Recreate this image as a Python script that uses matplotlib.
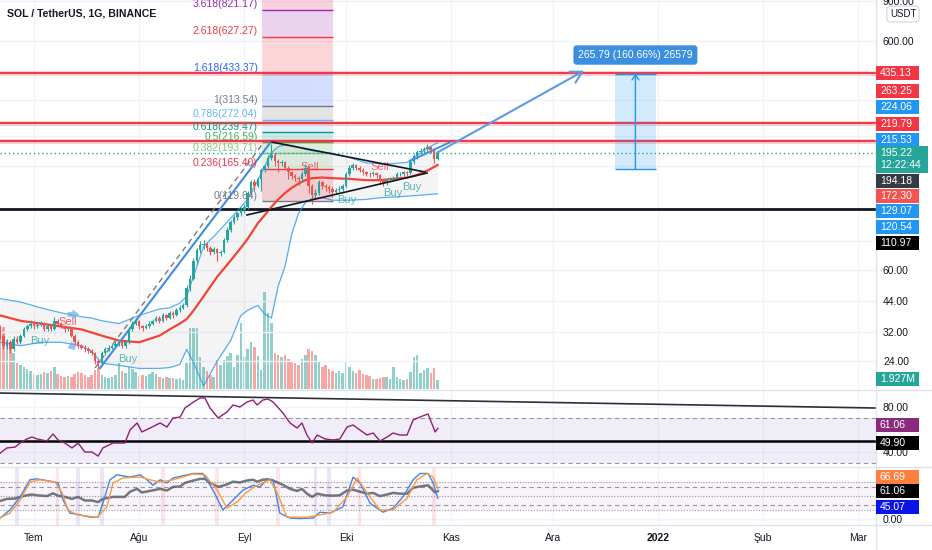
import matplotlib
matplotlib.use("Agg")
import matplotlib.pyplot as plt
from matplotlib.lines import Line2D
from matplotlib.patches import Rectangle
import numpy as np
import pandas as pd

plt.rcParams["font.family"] = ["Liberation Sans", "DejaVu Sans"]

W, H = 932, 550
SCALE_X = 876            # left edge of the price scale, px
X_LEFT, X_RIGHT = -10.03, 248.3
BASE = pd.Timestamp("2021-07-01")   # day 0

# daily candles, day -10 (2021-06-21) .. day 119 (2021-10-28)
first_open = 33.0
closes = [31, 28, 29, 27, 30, 29, 31, 33, 34, 35,
          34, 34.6, 35, 33, 34, 33, 36, 35, 34, 33,
          33.5, 31, 29, 28, 27.5, 27, 26.5, 26, 24, 23.5,
          26, 27, 27.5, 28, 28.5, 29, 28, 29, 33, 35,
          36, 34, 33.5, 34, 35, 36, 37, 36, 38, 37,
          39, 38, 40, 41, 42, 50, 55, 66, 73, 77,
          78, 75, 72, 74, 71, 72, 81, 90, 97, 102,
          106, 110, 113, 130, 145, 140, 150, 164, 170, 185,
          190, 180, 176, 178, 168, 160, 155, 152, 150, 158,
          168, 140, 128, 130, 145, 140, 138, 135, 132, 134,
          136, 140, 158, 168, 172, 168, 164, 160, 158, 157,
          159, 156, 148, 144, 148, 150, 152, 157, 158, 160,
          159, 178, 188, 196, 198, 202, 207, 200, 184, 195.22]
highs = [34, 31.5, 30, 29.6, 30.8, 31, 31.6, 33.8, 35, 36.2,
         35.8, 35.4, 36, 35.5, 34.8, 34.6, 37.5, 36.6, 35.6, 34.5,
         34.2, 33.9, 31.4, 29.6, 28.6, 28.2, 27.6, 27, 26.4, 24.6,
         26.6, 27.6, 28.2, 28.6, 29.3, 29.8, 29.5, 29.6, 33.8, 36,
         37.2, 36.4, 34.6, 34.8, 35.8, 36.8, 37.8, 37.6, 38.8, 38.6,
         39.8, 39.6, 40.8, 42, 43, 51.5, 57, 68, 75, 80,
         81, 79.5, 76, 75.5, 75, 73.5, 82.5, 92, 99, 104,
         108, 113, 116, 133, 148, 150, 153, 168, 175, 190,
         214, 195, 184, 182, 180, 170, 163, 158, 155, 162,
         175, 170, 142, 135, 149, 147, 143, 141, 138, 137,
         139, 143, 161, 172, 176, 175, 171, 167, 163, 161,
         162, 161, 158, 150, 150, 153, 155, 160, 161, 163,
         162, 180, 192, 200, 204, 206, 212, 209, 202, 197]
lows = [30, 27, 27.2, 26, 26.5, 28.4, 28.5, 30.6, 32.4, 33.5,
        33.2, 33.4, 34, 32.5, 32.6, 32.5, 32.8, 34.3, 33.4, 32.3,
        32.6, 30.5, 28.4, 27.4, 27, 26.4, 26, 25.4, 23.4, 22.4,
        23.2, 25.6, 26.6, 27.1, 27.6, 28, 27.5, 27.3, 28.6, 32.5,
        34.5, 33.2, 32.6, 33, 33.6, 34.6, 35.5, 35.3, 35.6, 36.2,
        36.5, 37.2, 37.6, 39.4, 40.4, 41.5, 48.5, 54, 64, 71,
        74, 72.5, 69.5, 70.5, 66, 69, 71, 79.5, 88, 95,
        99, 103, 106, 111, 127, 133, 138, 133, 160, 167,
        182, 170, 160, 171, 164, 150, 150, 147, 141, 146,
        155, 130, 116, 124, 128, 136, 133, 130, 125, 129,
        131, 133, 138, 155, 164, 164, 160, 156, 154, 153,
        154, 152, 143, 140, 141, 145, 147, 150, 154, 155,
        155, 157, 175, 184, 192, 194, 199, 195, 176, 182]
volumes = [13.7, 13.3, 10.5, 9.6, 7.7, 5.6, 5.1, 4.7, 4.3, 3.9,
           3.2, 3.0, 3.2, 3.6, 3.4, 3.9, 4.7, 3.2, 2.8, 2.6,
           2.8, 2.6, 3.2, 3.6, 3.4, 3.0, 2.6, 3.0, 4.1, 4.5,
           3.0, 2.6, 2.4, 2.6, 3.0, 5.6, 3.9, 3.4, 4.7, 4.3,
           3.6, 2.8, 3.0, 2.8, 3.2, 3.6, 3.2, 2.6, 2.4, 2.6,
           2.4, 2.4, 2.1, 2.4, 1.9, 5.6, 13.1, 13.1, 13.1, 6.8,
           4.7, 3.9, 3.0, 2.6, 6.2, 5.1, 6.2, 7.1, 7.7, 4.7,
           7.3, 14.1, 6.8, 8.6, 10.1, 9.0, 7.0, 4.1, 20.8, 16.3,
           14.1, 7.7, 7.3, 6.8, 7.3, 6.4, 6.0, 5.6, 5.1, 6.4,
           7.3, 8.6, 8.1, 7.3, 6.0, 4.7, 5.1, 4.3, 3.9, 3.4,
           3.9, 3.4, 5.8, 4.7, 3.9, 3.4, 4.1, 3.2, 3.0, 2.8,
           2.1, 2.1, 2.4, 2.6, 2.6, 2.1, 4.7, 2.6, 2.1, 1.9,
           2.1, 3.6, 6.8, 7.3, 3.4, 4.1, 4.5, 3.4, 4.5, 1.927]
VOL_TOP = 83.2   # volume value at the top of the price pane (millions)

# Bollinger bands, read at sample days
bb_days = [-10, -4, 2, 8, 14, 17, 20, 25, 31, 37, 40, 43, 45, 47, 50, 54, 58, 61, 63,
           66, 68, 70, 72, 74, 76, 78, 80, 82, 85, 88, 93, 98, 102, 106, 110, 113, 116, 119]
bb_upper = [45, 43.5, 41, 39, 37.5, 37, 36, 35, 38, 40.5, 41, 43, 46, 56, 76, 87, 101, 113, 122,
            148, 170, 195, 207, 211, 210, 206, 202, 199, 196, 194, 186, 176, 175, 175, 177, 190, 205, 215.53]
bb_basis = [38, 36, 35, 34, 33, 32, 31, 29.5, 29, 31, 33, 35, 36.6, 39.8, 46, 56, 66, 75, 82,
            96, 104, 113, 122, 130, 137, 143, 148, 151, 152, 151, 150, 148, 148, 150, 152, 156, 163, 172.3]
bb_lower = [29, 28, 29, 29, 28, 26.5, 23.5, 23, 22.3, 22.3, 22.5, 23.2, 27, 23.7, 18.7, 24, 29.5, 38, 40,
            42, 38.5, 37, 51, 62, 86, 106, 118, 123, 124, 121, 121, 122, 124, 125, 126, 127, 128, 129.07]

# RSI
rsi_days = [-10, -8, -5.6, -4.1, -2.1, -0.6, 0.9, 3.8, 5.6, 7.1, 9.1, 11.2, 13, 15, 17.1, 18.9,
            20.3, 23.3, 26.8, 28.3, 30.4, 31.8, 34.2, 37.2, 39.2, 41, 43.1, 44.5, 46.6, 49, 50.4,
            51.9, 54.3, 56.9, 58.7, 60.7, 62.8, 64.6, 65.8, 67.5, 69, 70.5, 73.4, 75.5, 77.6, 79,
            80.5, 82, 83.5, 85.8, 88.2, 90.2, 92.3, 94.1, 96.1, 98.2, 100, 102, 104.1, 105.9,
            107.9, 110, 111.8, 113.8, 116.2, 118.3, 119.1]
rsi_vals = [39, 43.6, 44.4, 48, 51.6, 53.3, 51.6, 49.8, 56, 50.7, 48, 43.6, 48, 40, 40, 36.4,
            43.6, 48, 48, 59.6, 65.8, 57.8, 61.3, 65.8, 62.2, 70.2, 71.1, 79.1, 83.6, 88, 88,
            79.1, 70.2, 75.6, 81.8, 80, 84.4, 86.2, 81.8, 86.2, 87.1, 84.4, 74.7, 65.8, 61.3, 65.8,
            55.1, 48, 55.1, 51.6, 50.7, 51.6, 62.2, 64, 59.6, 55.1, 56.9, 49.8, 53.3, 56.9,
            55.1, 55.1, 68.4, 71.1, 73.8, 57.8, 61.06]
rsi_line = 49.90
rsi_trend = ([-10, 248], [92.4, 79.1])

# Stochastic RSI
k_days = [-10, -7.1, -4.1, -1.2, 0.9, 4.7, 7.1, 8.6, 10.6, 13.6, 16.5, 18.9, 20.3, 22.4, 24.5,
          28.3, 31.3, 33.3, 35.1, 37.2, 39.2, 41, 46.9, 49.8, 52.8, 55.7, 58.7, 61.6, 64.6, 66.6,
          68.7, 70.5, 72.5, 75.5, 78.4, 82.3, 84.3, 87.3, 91.1, 94.1, 96.1, 99.1, 102.9, 105.9,
          108.8, 111.8, 113.8, 116.2, 117.7, 119.1]
k_vals = [1, 19, 48, 86, 88, 83, 79, 41, 12, 8, 3, 3, 34, 86, 97,
          92, 97, 86, 74, 86, 79, 90, 100, 100, 63, 19, 41, 63, 74, 70,
          86, 86, 12, 1, 0, 1, 14, 12, 26, 92, 79, 34, 14, 23,
          48, 86, 100, 100, 79, 45.07]
d_days = [-10, -7.1, -4.1, -1.2, 1.8, 6.2, 8.3, 10, 12.7, 18.6, 21.5, 23.3, 26.2, 31.3, 34.2,
          37.2, 41, 46.9, 50.4, 54, 56.9, 59.9, 62.8, 65.8, 69.6, 71.7, 74.6, 80.5, 84.3, 88.2,
          92.3, 95.3, 98.2, 102, 105.9, 110, 112.9, 115.9, 117.7, 119.1]
d_vals = [2, 12, 41, 81, 86, 81, 57, 19, 8, 3, 26, 79, 90, 92, 86,
          81, 86, 99, 97, 63, 23, 37, 59, 74, 86, 57, 3, 3, 8, 14,
          48, 90, 57, 19, 19, 45, 86, 100, 92, 66.69]
stripe_purple = [-5, 13, 20, 83, 87]
stripe_pink = [7, 38, 54, 72, 96, 118]

# drawings on the price pane
resistance = [435.13, 263.25, 219.79]
support = 110.97
last_price = 195.22
fib_names = ["0", "0.236", "0.382", "0.5", "0.618", "0.786", "1", "1.618", "2.618", "3.618"]
fib_prices = [119.64, 165.40, 193.71, 216.59, 239.47, 272.04, 313.54, 433.37, 627.27, 821.17]
fib_top = 940.9
fib_span = (67.2, 88.2)
rally_line = ([19.5, 69.6], [22.4, 215])
rally_dashed = ([18.0, 67.2], [22.4, 211])
tri_upper = ([70.2, 115.3], [217, 160.7])
tri_lower = ([62.8, 115.9], [104.3, 159])
short_line = ([110.9, 122.7], [179.5, 217])
proj_arrow = ([118.8, 162.2], [195, 445])
measure_span = (171.3, 183.4)
measure_low, measure_high = 165.43, 431.22
measure_text = "265.79 (160.66%) 26579"
measure_label_price = 521

signal_text = ["Sell", "Buy", "Buy", "Sell", "Buy", "Sell", "Buy", "Buy"]
signal_days = [10.0, 1.8, 27.7, 81.4, 92.3, 102.0, 105.9, 111.5]
signal_prices = [35.6, 29.4, 24.5, 169, 121, 169, 130, 138]

months = ["2021-07-01", "2021-08-01", "2021-09-01", "2021-10-01", "2021-11-01",
          "2021-12-01", "2022-01-01", "2022-02-01", "2022-03-01"]
month_names = ["Tem", "Ağu", "Eyl", "Eki", "Kas", "Ara", "2022", "Şub", "Mar"]

# price-scale tags (value text, colour, centre y in px)
tag_texts = ["435.13", "263.25", "224.06", "219.79", "215.53", "194.18", "172.30",
             "129.07", "120.54", "110.97", "1.927M", "61.06", "49.90", "66.69", "61.06", "45.07"]
tag_colors = ["#f23645", "#f23645", "#2196f3", "#f23645", "#2196f3", "#363a45", "#f5534f",
              "#2196f3", "#2196f3", "#000000", "#26a69a", "#8b2a7c", "#000000", "#ff7f3f",
              "#000000", "#0a14e6"]
tag_y = [73, 91, 107, 124, 140, 181, 196, 211, 227, 243, 379, 425, 443, 477, 491, 507]

TXT = "#131722"
GRID = "#f0f3fa"
UP, DOWN = "#26a69a", "#ef5350"


def fy(y):
    return 1 - y / H


fig = plt.figure(figsize=(W / 100, H / 100), dpi=100)
fig.patch.set_facecolor("white")
ax = fig.add_axes([0, fy(389), SCALE_X / W, 389 / H])
ax_rsi = fig.add_axes([0, fy(467), SCALE_X / W, 77 / H], sharex=ax)
ax_st = fig.add_axes([0, fy(525), SCALE_X / W, 58 / H], sharex=ax)

# volume sits on a twin axis below the candles
ax_vol = ax.twinx()
ax_vol.set_ylim(0, VOL_TOP)
ax_vol.set_axis_off()
ax_vol.set_zorder(1)
ax.set_zorder(2)
ax.patch.set_visible(False)

month_days = [(pd.Timestamp(m) - BASE).days for m in months]
for a in (ax, ax_rsi, ax_st):
    for s in a.spines.values():
        s.set_visible(False)
    a.yaxis.tick_right()
    a.yaxis.set_label_position("right")
    a.tick_params(axis="y", left=False, right=False, labelleft=False, labelright=True,
                  length=0, labelsize=7.5, labelcolor=TXT, pad=5)
    a.tick_params(axis="x", length=0, labelsize=7.5, labelcolor=TXT, pad=6)
    a.grid(True, color=GRID, lw=1)
    a.set_axisbelow(True)
ax.tick_params(axis="x", labelbottom=False)
ax_rsi.tick_params(axis="x", labelbottom=False)
ax_st.set_xticks(month_days)
ax_st.set_xticklabels(month_names)
ax_st.get_xticklabels()[6].set_fontweight("bold")
ax.set_xlim(X_LEFT, X_RIGHT)

# ---- price pane ----
ax.set_yscale("log")
ax.set_ylim(18.13, 906)
pticks = [24, 32, 44, 60, 80, 170, 230, 330, 600, 900]
hidden = {80, 170, 230, 330}   # grid only, their labels sit under the tags
ax.set_yticks(pticks)
ax.set_yticklabels(["" if v in hidden else f"{v:.2f}" for v in pticks])
ax.yaxis.set_minor_locator(matplotlib.ticker.NullLocator())

days = np.arange(-10, -10 + len(closes))
c = np.array(closes)
o = np.array([first_open] + closes[:-1])
cols = np.where(c >= o, UP, DOWN)

vcols = np.where(c >= o, "#8fd1ca", "#f7a6a4")
ax_vol.bar(days, volumes, width=0.74, color=vcols, zorder=1)

# fibonacci retracement
fx0, fx1 = fib_span
fib_cols = ["#787b86", "#f23645", "#81c784", "#4caf50", "#089981", "#64b5f6",
            "#787b86", "#2962ff", "#f23645", "#9c27b0", "#e91e63"]
levels = fib_prices + [fib_top]
for i in range(1, len(levels)):
    ax.add_patch(Rectangle((fx0, levels[i - 1]), fx1 - fx0, levels[i] - levels[i - 1],
                           fc=fib_cols[i], alpha=0.2, ec="none", zorder=1))
for name, p, col in zip(fib_names, fib_prices, fib_cols):
    ax.hlines(p, fx0, fx1, color=col, lw=1, zorder=2)
    ax.text(fx0 - 1.2, p * 1.008, f"{name}({p:.2f})", color=col, fontsize=7.5,
            ha="right", va="bottom", zorder=7)

# bollinger bands
ax.fill_between(bb_days, bb_lower, bb_upper, color="#787b86", alpha=0.08, lw=0, zorder=1)
ax.plot(bb_days, bb_upper, color="#2196f3", lw=0.9, alpha=0.75, zorder=3)
ax.plot(bb_days, bb_lower, color="#2196f3", lw=0.9, alpha=0.75, zorder=3)
ax.plot(bb_days, bb_basis, color="#f44336", lw=1.6, zorder=3)

# horizontal levels
ax.axhline(last_price, color="#26a69a", lw=1, ls=(0, (1, 2)), zorder=2)
for r in resistance:
    ax.axhline(r, color="#f23645", lw=3.5, alpha=0.25, zorder=2)
    ax.axhline(r, color="#f23645", lw=1.4, zorder=2)
ax.axhline(support, color="#131722", lw=2, zorder=2)

# signals
for t, dd, pp in zip(signal_text, signal_days, signal_prices):
    ax.text(dd, pp, t, fontsize=8, ha="center", va="center", zorder=3,
            color="#f23645" if t == "Sell" else "#26a69a", alpha=0.75)
ax.annotate("", xy=(14.2, 38.4), xytext=(9.1, 38.4), zorder=3,
            arrowprops=dict(arrowstyle="simple,head_length=0.5,head_width=0.7,tail_width=0.35",
                            fc="#6fa8e8", ec="none", alpha=0.7))
ax.annotate("", xy=(9.1, 27.0), xytext=(13.0, 28.6), zorder=3,
            arrowprops=dict(arrowstyle="simple,head_length=0.5,head_width=0.7,tail_width=0.35",
                            fc="#6fa8e8", ec="none", alpha=0.7))

# candles
ax.vlines(days, lows, highs, colors=cols, lw=0.8, zorder=5)
ax.bar(days, np.abs(c - o), bottom=np.minimum(c, o), width=0.75, color=cols, zorder=6)

# trend lines
ax.plot(*rally_dashed, color="#787b86", lw=1, ls=(0, (4, 3)), zorder=4)
ax.plot(*rally_line, color="#3d8ee0", lw=1.5, zorder=4)
ax.plot(*tri_upper, color="#131722", lw=1.2, zorder=7)
ax.plot(*tri_lower, color="#131722", lw=1.2, zorder=7)
ax.plot(*short_line, color="#3d8ee0", lw=1.4, zorder=7)
ax.annotate("", xy=(proj_arrow[0][1], proj_arrow[1][1]),
            xytext=(proj_arrow[0][0], proj_arrow[1][0]), zorder=8,
            arrowprops=dict(arrowstyle="->,head_length=0.8,head_width=0.45",
                            color="#5b9be3", lw=1.5, shrinkA=0, shrinkB=0))

# price range measure
mx0, mx1 = measure_span
mxc = (mx0 + mx1) / 2
ax.add_patch(Rectangle((mx0, measure_low), mx1 - mx0, measure_high - measure_low,
                       fc="#2196f3", alpha=0.2, ec="none", zorder=3))
ax.hlines([measure_low, measure_high], mx0, mx1, color="#2196f3", lw=1, zorder=4)
ax.annotate("", xy=(mxc, measure_high), xytext=(mxc, measure_low), zorder=4,
            arrowprops=dict(arrowstyle="->,head_length=0.35,head_width=0.25",
                            color="#2196f3", lw=1, shrinkA=0, shrinkB=0))
ax.text(mxc, measure_label_price, measure_text, color="white", fontsize=7.5,
        ha="center", va="center", zorder=9,
        bbox=dict(boxstyle="round,pad=0.45,rounding_size=0.3", fc="#3a8fe0", ec="none"))

# ---- RSI pane ----
ax_rsi.set_ylim(26.7, 95.1)
ax_rsi.set_yticks([40, 80])
ax_rsi.set_yticklabels(["40.00", "80.00"])
ax_rsi.axhspan(30, 70, color="#7e57c2", alpha=0.1, lw=0, zorder=1)
for v in (30, 70):
    ax_rsi.axhline(v, color="#9598a1", lw=0.8, ls=(0, (4, 3)), zorder=2)
ax_rsi.plot(*rsi_trend, color="#2a2e39", lw=1.2, zorder=3)
ax_rsi.axhline(rsi_line, color="black", lw=1.8, zorder=3)
ax_rsi.plot(rsi_days, rsi_vals, color="#8e1f75", lw=1, zorder=4)

# ---- Stoch RSI pane ----
ax_st.set_ylim(-14.4, 114.4)
ax_st.set_yticks([0])
ax_st.set_yticklabels(["0.00"])
ax_st.axhspan(20, 80, color="#9c27b0", alpha=0.05, lw=0, zorder=1)
for v in (20, 50, 80):
    ax_st.axhline(v, color="#9598a1", lw=0.8, ls=(0, (1, 1.5)), zorder=2)
for v in (30, 70):
    ax_st.axhline(v, color="#9598a1", lw=0.8, ls=(0, (4, 3)), zorder=2)
for s in stripe_purple:
    ax_st.axvspan(s - 0.5, s + 0.5, color="#7e57c2", alpha=0.15, lw=0, zorder=1)
for s in stripe_pink:
    ax_st.axvspan(s - 0.5, s + 0.5, color="#f23645", alpha=0.13, lw=0, zorder=1)
ax_st.plot(rsi_days, rsi_vals, color="#5d606b", lw=1.8, alpha=0.85, zorder=3)
ax_st.plot(k_days, k_vals, color="#3f86e8", lw=1, zorder=4)
ax_st.plot(d_days, d_vals, color="#ff9a3c", lw=1, zorder=4)

# ---- frame, title, scale tags ----
for y in (389.5, 467, 525):
    fig.add_artist(Line2D([0, 1], [fy(y), fy(y)], color="#e0e3eb", lw=1, zorder=5))
fig.add_artist(Line2D([SCALE_X / W, SCALE_X / W], [0, 1], color="#e0e3eb", lw=1, zorder=5))

fig.text(7 / W, fy(14), "SOL / TetherUS, 1G, BINANCE", fontsize=7.6, fontweight="bold",
         color=TXT, va="center", ha="left")
fig.text(903 / W, fy(14), "USDT", fontsize=7, color=TXT, va="center", ha="center", zorder=12,
         bbox=dict(boxstyle="round,pad=0.3,rounding_size=0.4", fc="white", ec="#d1d4dc", lw=0.8))


def tag(text, color, yc, h=14, w=43):
    fig.add_artist(Rectangle((SCALE_X / W, fy(yc + h / 2)), w / W, h / H,
                             transform=fig.transFigure, fc=color, ec="none", zorder=10))
    fig.text((SCALE_X + 4) / W, fy(yc), text, color="white", fontsize=7.5,
             va="center", ha="left", zorder=11)


for t, col, yc in zip(tag_texts, tag_colors, tag_y):
    tag(t, col, yc)
tag(f"{last_price:.2f}\n12:22:44", "#26a69a", 159, h=27, w=52)

fig.savefig("out.png", dpi=100, facecolor="white")
